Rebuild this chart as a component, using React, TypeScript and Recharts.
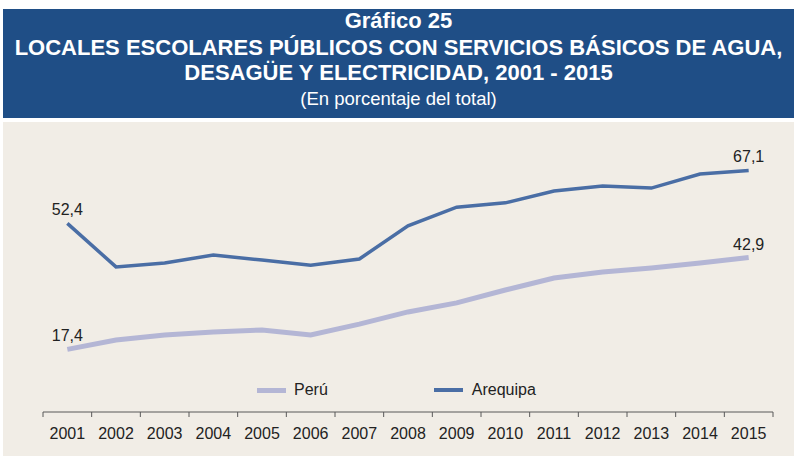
import { LineChart, Line, XAxis, YAxis, LabelList } from "recharts";

const years = [
  "2001", "2002", "2003", "2004", "2005", "2006", "2007", "2008",
  "2009", "2010", "2011", "2012", "2013", "2014", "2015",
];
const peru = [17.4, 20.0, 21.4, 22.2, 22.8, 21.4, 24.4, 27.8, 30.3, 33.9, 37.2, 38.9, 40.0, 41.4, 42.9];
const arequipa = [52.4, 40.3, 41.4, 43.6, 42.2, 40.8, 42.5, 51.7, 56.9, 58.1, 61.4, 62.8, 62.2, 66.1, 67.1];

const FONT = "'Liberation Sans', Arial, sans-serif";
const PERU_COLOR = "#b4b6d5";
const AREQUIPA_COLOR = "#4a6ea5";
const HALF_BAND = 730 / 15 / 2;

const data = years.map((year, i) => ({ year, peru: peru[i], arequipa: arequipa[i] }));

// Excel style: tick marks between categories, label in the middle
const YearTick = (props: any) => {
  const { x, y, payload, index } = props;
  const last = index === years.length - 1;
  return (
    <g>
      <line x1={x - HALF_BAND} y1={y} x2={x - HALF_BAND} y2={y + 5} stroke="#595959" />
      {last && <line x1={x + HALF_BAND} y1={y} x2={x + HALF_BAND} y2={y + 5} stroke="#595959" />}
      <text x={x} y={y + 27} textAnchor="middle" fontSize={16} fill="#222" fontFamily={FONT}>
        {payload.value}
      </text>
    </g>
  );
};

// only first and last values are labelled
const EndLabel = (props: any) => {
  const { x, y, value, index } = props;
  if (index !== 0 && index !== years.length - 1) return null;
  return (
    <text x={x} y={y - 8} textAnchor="middle" fontSize={16} fill="#222" fontFamily={FONT}>
      {String(value.toFixed(1)).replace(".", ",")}
    </text>
  );
};

export default function App() {
  return (
    <div style={{ position: "relative", width: 797, height: 456, background: "#fff", fontFamily: FONT }}>
      <style>{"body{margin:0}"}</style>
      <div
        style={{
          position: "absolute",
          left: 3,
          top: 9,
          width: 791,
          height: 109,
          background: "#1f4e86",
          color: "#fff",
          textAlign: "center",
        }}
      >
        <div style={{ position: "absolute", top: -1, width: "100%", fontWeight: "bold", fontSize: 22, lineHeight: "25px" }}>
          <div>Gráfico 25</div>
          <div style={{ marginTop: 2 }}>LOCALES ESCOLARES PÚBLICOS CON SERVICIOS BÁSICOS DE AGUA,</div>
          <div>DESAGÜE Y ELECTRICIDAD, 2001 - 2015</div>
        </div>
        <div style={{ position: "absolute", top: 79, width: "100%", fontSize: 18.5, lineHeight: "22px" }}>
          (En porcentaje del total)
        </div>
      </div>
      <div style={{ position: "absolute", left: 3, top: 122, width: 791, height: 334, background: "#f1ede6" }} />
      <div style={{ position: "absolute", left: 0, top: 122 }}>
        <LineChart width={797} height={334} data={data} margin={{ top: 20, right: 24, bottom: 14, left: 43 }}>
          <XAxis
            dataKey="year"
            padding={{ left: HALF_BAND, right: HALF_BAND }}
            axisLine={{ stroke: "#595959" }}
            tickLine={false}
            tickSize={0}
            tickMargin={0}
            height={30}
            interval={0}
            tick={<YearTick />}
          />
          <YAxis hide domain={[0, 75]} />
          <Line
            dataKey="peru"
            stroke={PERU_COLOR}
            strokeWidth={5}
            dot={false}
            isAnimationActive={false}
          >
            <LabelList dataKey="peru" content={<EndLabel />} />
          </Line>
          <Line
            dataKey="arequipa"
            stroke={AREQUIPA_COLOR}
            strokeWidth={3.5}
            dot={false}
            isAnimationActive={false}
          >
            <LabelList dataKey="arequipa" content={<EndLabel />} />
          </Line>
        </LineChart>
      </div>
      {/* legend */}
      <div style={{ position: "absolute", left: 257, top: 380, height: 20, display: "flex", alignItems: "center", fontSize: 16, color: "#222" }}>
        <span style={{ display: "inline-block", width: 29, height: 5, background: PERU_COLOR, marginRight: 8 }} />
        <span>Perú</span>
        <span style={{ display: "inline-block", width: 29, height: 4, background: AREQUIPA_COLOR, marginLeft: 106, marginRight: 9 }} />
        <span>Arequipa</span>
      </div>
    </div>
  );
}
